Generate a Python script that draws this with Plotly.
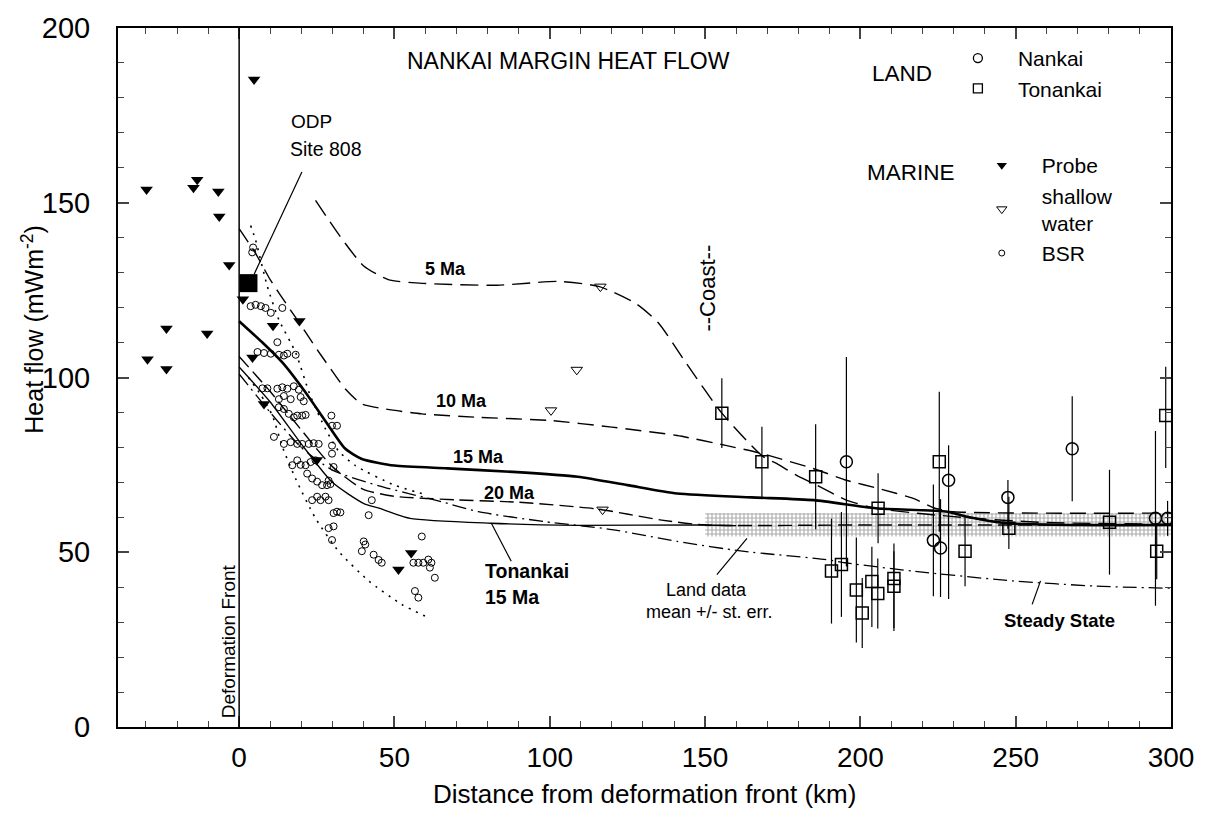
import plotly.graph_objects as go

W, H = 1206, 815
L, R, T, B = 118, 31, 22, 88
PW, PH = W - L - R, H - T - B

def pp(x, y):
    return (x - L) / PW, (H - B - y) / PH

FONT = "Liberation Sans, Arial, sans-serif"

# ---------------- data ----------------
probe_x = [-29.8, -14.7, -13.5, -6.7, -6.4, -3.2, -23.4, -10.3, -29.5, -23.4,
           4.8, 1.2, 10.9, 19.4, 4.3, 8.0, 25.0, 55.4, 51.3]
probe_y = [153.8, 154.3, 156.6, 153.2, 146.1, 132.2, 114.0, 112.6, 105.2, 102.4,
           185.3, 122.4, 114.8, 116.2, 105.7, 92.4, 76.4, 49.8, 45.1]

shallow_x = [116.3, 108.7, 100.4, 117.0]
shallow_y = [126.0, 102.2, 90.6, 62.2]

bsr_x = [4.5, 4.2, 3.7, 5.3, 7.0, 8.5, 10.2, 13.9, 12.3,
         5.9, 8.0, 10.2, 12.8, 14.4, 15.5, 18.2,
         7.5, 9.1, 12.3, 13.9, 15.5, 17.6, 19.2,
         12.8, 14.4, 16.6, 19.8, 20.8,
         12.8, 14.4, 16.0, 17.6, 18.7, 20.3, 21.4,
         29.7, 31.5, 29.9, 11.2,
         14.4, 16.6, 18.7, 20.3, 22.4, 24.0, 25.6,
         17.1, 18.7, 19.8, 21.4, 23.0, 24.6,
         29.9, 29.9, 30.4,
         21.9, 23.5, 25.1, 26.7, 28.3, 28.8, 29.4,
         23.5, 25.1, 26.2, 27.8, 28.8,
         30.4, 31.5, 32.6, 28.8, 30.4, 29.9,
         42.7, 41.7, 40.1, 40.6, 39.5, 43.3, 44.9, 45.9, 58.8,
         56.1, 57.7, 59.3, 60.9, 61.9, 61.4, 63.0, 56.6, 57.7]
bsr_y = [137.2, 135.8, 120.4, 120.8, 120.4, 119.9, 118.5, 119.9, 110.1,
         107.3, 107.0, 106.8, 106.5, 106.3, 106.8, 106.5,
         96.9, 96.9, 96.8, 97.2, 96.8, 97.5, 96.5,
         93.8, 94.7, 93.8, 94.4, 93.2,
         91.5, 91.0, 89.6, 88.6, 89.1, 89.1, 89.3,
         89.1, 86.2, 86.2, 83.0,
         81.0, 81.5, 81.0, 81.0, 81.0, 81.2, 81.0,
         74.9, 76.3, 75.0, 74.9, 75.8, 76.3,
         80.5, 78.2, 74.4,
         72.5, 71.1, 70.2, 69.2, 69.2, 70.5, 69.5,
         64.9, 65.9, 64.9, 65.9, 64.9,
         61.2, 61.6, 61.4, 56.9, 57.4, 53.5,
         64.9, 60.6, 53.1, 52.2, 50.3, 49.3, 47.8, 47.0, 54.5,
         47.0, 47.0, 47.0, 47.9, 47.0, 45.6, 42.7, 38.9, 37.0]

odp_x = [3.0]
odp_y = [127.0]

nankai_x = [195.5, 223.5, 225.8, 228.4, 247.5, 268.2, 295.0, 298.9]
nankai_y = [75.9, 53.4, 51.2, 70.6, 65.7, 79.6, 59.7, 59.7]
nankai_ep = [30.0, 16.0, 14.0, 10.0, 5.0, 15.0, 25.0, 5.0]
nankai_em = [30.0, 16.0, 14.0, 34.0, 9.0, 15.0, 25.0, 5.0]

tonankai_x = [155.4, 168.3, 185.6, 190.7, 193.9, 198.7, 200.6, 203.7, 205.6,
              205.7, 210.8, 210.8, 225.4, 233.7, 247.8, 280.2, 295.4, 298.3]
tonankai_y = [89.8, 75.9, 71.6, 44.6, 46.5, 39.2, 32.6, 41.6, 38.2,
              62.6, 42.5, 40.3, 75.9, 50.3, 56.9, 58.6, 50.3, 89.1]
tonankai_ep = [10, 10, 15, 15, 15, 15, 10, 10, 10, 10, 10, 10, 20, 10, 9, 15, 8, 14]
tonankai_em = [10, 10, 15, 15, 15, 15, 10, 13, 10, 10, 15, 12, 20, 10, 6, 15, 8, 15]

# model curves
ma5_x = [24.6, 32, 40, 48, 58, 83, 103, 116, 128, 135, 144, 155.4, 168.5, 173,
         179.5, 186, 195.5, 205, 220, 240, 260, 300]
ma5_y = [150.7, 141, 132, 128, 127, 126.4, 127.5, 126, 121, 115.6, 104, 89.8, 77.5,
         75.4, 72, 69.2, 64.9, 62.6, 61.0, 59.5, 58.5, 58.0]
ma10_x = [0, 5.3, 10, 16, 19.8, 25.1, 28.8, 34.2, 39.5, 47, 58.8, 77, 100, 120,
          141, 157, 168, 185, 195.5, 206, 217, 224, 230, 300]
ma10_y = [142.6, 135.5, 128, 120, 115.1, 108, 103.3, 96.7, 92.4, 91.0, 89.6, 88.6,
          87.7, 85.8, 83.4, 80.5, 78.3, 73.9, 70.6, 68.2, 65.4, 62.6, 61.6, 61.2]
ma15_x = [0, 7.5, 13.9, 21.4, 28.8, 34.2, 39.5, 50, 67, 88, 109, 125, 141, 165,
          185, 205, 228, 234, 247, 270, 300]
ma15_y = [116.1, 110, 104.3, 95.7, 86.2, 79.6, 76.7, 74.8, 74.0, 73.0, 71.6, 69.2,
          66.8, 65.7, 64.9, 62.6, 61.6, 60.2, 58.3, 57.8, 57.8]
ma20_x = [0, 10, 20, 30, 40, 50, 70, 90, 115, 136, 150, 200, 300]
ma20_y = [106, 96, 85, 74.5, 68, 66, 65, 64.3, 62.4, 59.2, 57.8, 57.8, 57.8]
ton15_x = [0, 10, 20, 30, 40, 45, 55, 81, 109, 150, 160]
ton15_y = [103, 93, 81, 70, 64, 62.6, 59.7, 58.3, 57.7, 57.8, 57.6]
steady_x = [0, 10, 20, 30, 45, 65, 77, 98, 120, 141, 162, 189, 195, 217, 249, 276, 300]
steady_y = [101, 90, 80, 73.5, 69, 64.5, 61.6, 58.8, 56.5, 53.1, 50.3, 47.9, 47.0,
            44.6, 41.8, 40.3, 39.7]
dot_up_x = [3.7, 5.3, 9.1, 12.8, 18.2, 22.9, 27.8, 32, 37.4, 50, 60]
dot_up_y = [143.5, 139.3, 126, 116.5, 107.1, 94.8, 85.3, 79, 74.8, 69.2, 66.5]
dot_lo_x = [3, 7, 10.7, 14, 18.2, 24.6, 32, 41.7, 52.3, 60.9]
dot_lo_y = [100, 95, 89.1, 80, 71, 59.7, 50.3, 41.8, 35.1, 31.3]

band_x = [150, 300]
band_lo = 54.5
band_hi = 61.2

x_ticks = [0, 50, 100, 150, 200, 250, 300]
y_ticks = [0, 50, 100, 150, 200]

# ---------------- figure ----------------
fig = go.Figure()

fig.add_trace(go.Scatter(
    x=[band_x[0], band_x[1], band_x[1], band_x[0], band_x[0]],
    y=[band_lo, band_lo, band_hi, band_hi, band_lo],
    mode="lines", fill="toself", line=dict(width=0),
    fillcolor="rgba(255,255,255,0)",
    fillpattern=dict(shape="+", size=4, solidity=0.5, fgcolor="#5a5a5a", bgcolor="rgba(255,255,255,0)"),
    showlegend=False, hoverinfo="skip"))

def curve(x, y, dash, width):
    fig.add_trace(go.Scatter(x=x, y=y, mode="lines", line=dict(color="black", width=width,
                  dash=dash, shape="spline", smoothing=0.6), showlegend=False, hoverinfo="skip"))

curve(ma5_x, ma5_y, "18px,8px", 1.4)
curve(ma10_x, ma10_y, "16px,8px", 1.4)
curve(ma15_x, ma15_y, "solid", 2.6)
curve(ma20_x, ma20_y, "14px,6px", 1.4)
curve(ton15_x, ton15_y, "solid", 1.3)
curve(steady_x, steady_y, "14px,5px,2px,5px", 1.3)
curve(dot_up_x, dot_up_y, "2px,6px", 1.6)
curve(dot_lo_x, dot_lo_y, "2px,6px", 1.6)

fig.add_trace(go.Scatter(x=bsr_x, y=bsr_y, mode="markers",
    marker=dict(symbol="circle-open", size=7, color="black", line=dict(width=1)),
    showlegend=False))
fig.add_trace(go.Scatter(x=probe_x, y=probe_y, mode="markers",
    marker=dict(symbol="triangle-down", size=11, color="black"), showlegend=False))
fig.add_trace(go.Scatter(x=shallow_x, y=shallow_y, mode="markers",
    marker=dict(symbol="triangle-down-open", size=10, color="black", line=dict(width=1)),
    showlegend=False))
fig.add_trace(go.Scatter(x=odp_x, y=odp_y, mode="markers",
    marker=dict(symbol="square", size=18, color="black"), showlegend=False))

fig.add_trace(go.Scatter(x=nankai_x, y=nankai_y, mode="markers",
    marker=dict(symbol="circle-open", size=12, color="black", line=dict(width=1.5)),
    error_y=dict(type="data", symmetric=False, array=nankai_ep, arrayminus=nankai_em,
                 width=0, thickness=1.2, color="black"),
    showlegend=False))
fig.add_trace(go.Scatter(x=tonankai_x, y=tonankai_y, mode="markers",
    marker=dict(symbol="square-open", size=12, color="black", line=dict(width=1.5)),
    error_y=dict(type="data", symmetric=False, array=tonankai_ep, arrayminus=tonankai_em,
                 width=0, thickness=1.2, color="black"),
    showlegend=False))

# legend-only entries
def leg(name, sym, size, lg, lw=1.3):
    fig.add_trace(go.Scatter(x=[None], y=[None], mode="markers", name=name, legend=lg,
        marker=dict(symbol=sym, size=size, color="black", line=dict(width=lw, color="black"))))

leg("Nankai", "circle-open", 9, "legend")
leg("Tonankai", "square-open", 9, "legend")
leg("Probe", "triangle-down", 9, "legend2", 0)
leg("shallow<br>water", "triangle-down-open", 9, "legend2", 1)
leg("BSR", "circle-open", 6, "legend2", 1)

# ---------------- annotations ----------------
ann = []
def pa(text, px, py, size=20, bold=False, angle=0, xanchor="center", yanchor="middle"):
    x, y = pp(px, py)
    t = f"<b>{text}</b>" if bold else text
    ann.append(dict(text=t, x=x, y=y, xref="paper", yref="paper", showarrow=False,
                    textangle=angle, xanchor=xanchor, yanchor=yanchor,
                    font=dict(family=FONT, size=size, color="black")))

def da(text, x, y, size=18, bold=True, xanchor="center"):
    t = f"<b>{text}</b>" if bold else text
    ann.append(dict(text=t, x=x, y=y, showarrow=False, xanchor=xanchor,
                    font=dict(family=FONT, size=size, color="black")))

pa("NANKAI MARGIN HEAT FLOW", 570, 55, 23)
pa("LAND", 905, 68, 22.5)
pa("MARINE", 914, 168, 22.5)
pa("ODP", 290, 116, 19, xanchor="left")
pa("Site 808", 289, 144, 19.5, xanchor="left")
pa("Deformation Front", 229, 641, 19, angle=-90)
pa("--Coast--", 710, 284, 22, angle=-90)
pa("Heat flow (mWm<sup>-2</sup>)", 33, 326, 25, angle=-90)
pa("Distance from deformation front (km)", 647, 795, 26)

da("5 Ma", 66.3, 131.0)
da("10 Ma", 71.5, 93.2)
da("15 Ma", 77.2, 77.3)
da("20 Ma", 86.9, 66.9)
da("Tonankai", 78.5, 44.5, 19.5, xanchor="left")
da("15 Ma", 78.5, 37.2, 19.5, xanchor="left")
da("Land data", 150.3, 39.2, 18, bold=False)
da("mean +/- st. err.", 151.3, 33.0, 18, bold=False)
da("Steady State", 264.1, 30.5, 18.5)

shapes = [
    dict(type="line", x0=0, x1=0, y0=0, y1=200, line=dict(color="black", width=1.5)),
    dict(type="line", x0=20.2, y0=158.8, x1=4.8, y1=129.5, line=dict(color="black", width=1.2)),
    dict(type="line", x0=87.6, y0=47.4, x1=81.2, y1=58.3, line=dict(color="black", width=1.2)),
    dict(type="line", x0=153.8, y0=43.6, x1=163.5, y1=54.0, line=dict(color="black", width=1.2)),
    dict(type="line", x0=255.3, y0=35.1, x1=258.0, y1=41.8, line=dict(color="black", width=1.2)),
]

lx, ly = pp(941, 32)
l2x, l2y = pp(965, 140)
fig.update_layout(
    width=W, height=H, margin=dict(l=L, r=R, t=T, b=B),
    paper_bgcolor="white", plot_bgcolor="white",
    font=dict(family=FONT, color="black"),
    annotations=ann, shapes=shapes,
    legend=dict(x=lx, y=ly, xanchor="left", yanchor="top", bgcolor="rgba(0,0,0,0)",
                font=dict(family=FONT, size=21), itemwidth=70, tracegroupgap=0),
    legend2=dict(x=l2x, y=l2y, xanchor="left", yanchor="top", bgcolor="rgba(0,0,0,0)",
                 font=dict(family=FONT, size=21), itemwidth=70, tracegroupgap=0),
    xaxis=dict(range=[-39, 300], tickvals=x_ticks, ticks="inside", ticklen=11, tickwidth=1.5,
               showline=True, linewidth=2, linecolor="black", mirror="ticks",
               showgrid=False, zeroline=False, ticklabelstandoff=4,
               tickfont=dict(family=FONT, size=28),
               minor=dict(dtick=10, tick0=0, ticks="inside", ticklen=6, tickwidth=1.2, showgrid=False)),
    yaxis=dict(range=[0, 200], tickvals=y_ticks, ticks="inside", ticklen=11, tickwidth=1.5,
               showline=True, linewidth=2, linecolor="black", mirror="ticks",
               showgrid=False, zeroline=False, ticklabelstandoff=20,
               tickfont=dict(family=FONT, size=29),
               minor=dict(dtick=10, tick0=0, ticks="inside", ticklen=6, tickwidth=1.2, showgrid=False)),
)

fig.write_html("out.html")
